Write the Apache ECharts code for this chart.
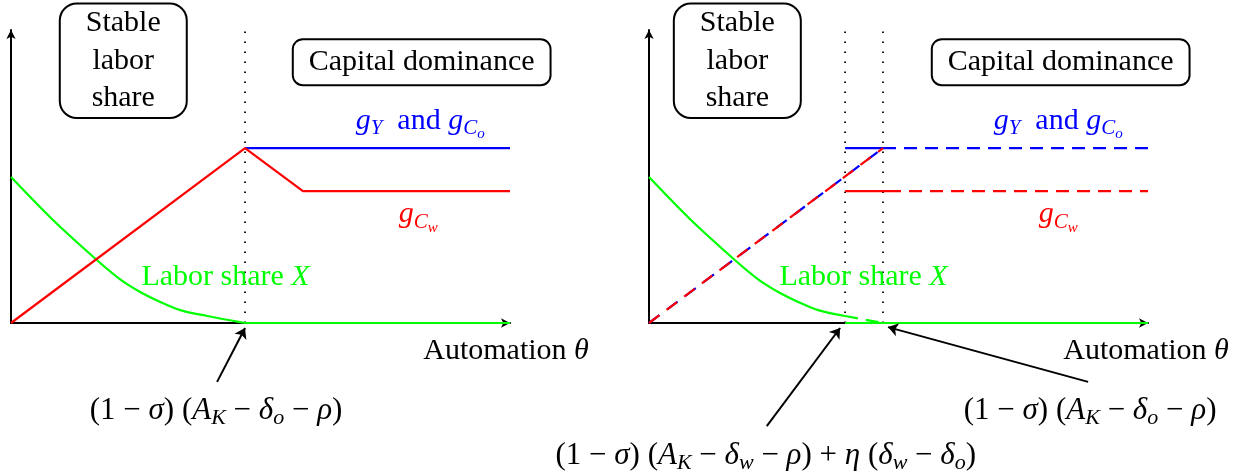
<!DOCTYPE html>
<html><head><meta charset="utf-8">
<script src="https://cdn.jsdelivr.net/npm/echarts@6/dist/echarts.min.js"></script>
<style>html,body{margin:0;padding:0;background:#fff}#c{width:1251px;height:473px}</style>
</head><body><div id="c"></div>
<script>
// ---------------- data (model units: automation θ on x, rates / share on y) ----------------
const THETA_MAX = 10;
const Y_MAX = 10;
const laborTheta = [0, 0.82, 1.72, 2.18, 2.59, 2.99, 3.39, 3.93, 4.69];
const laborShare = [4.98, 3.55, 2.15, 1.50, 1.06, 0.72, 0.44, 0.24, 0];
const thetaStar = 4.69;        // (1−σ)(A_K−δ_o−ρ)
const thetaW = 3.93;           // (1−σ)(A_K−δ_w−ρ)+η(δ_w−δ_o)
const gPeak = 5.97;            // g_Y and g_Co under capital dominance
const gCw = 4.5;               // g_Cw under capital dominance
const thetaKinkLeft = 5.85;    // where g_Cw settles (left panel)
const thetaCwSolidRight = 4.95;// end of solid g_Cw segment (right panel)

// ---------------- styling ----------------
const F = '"Liberation Serif", "DejaVu Serif", serif';
const FS = 30;
const BLUE = '#0000ff', RED = '#ff0000', GREEN = '#00ff00', BLACK = '#000000';
const DASH = [13, 8];

const laborPts = laborTheta.map((t, i) => [t, laborShare[i]]);
const iW = laborTheta.indexOf(thetaW);

function axisPair(g) {
  const axisLine = {show: true, onZero: false, symbol: ['none', 'arrow'], symbolSize: [7, 9],
    lineStyle: {color: BLACK, width: 2}};
  return {
    x: {gridIndex: g, type: 'value', min: 0, max: THETA_MAX, axisLine: axisLine,
      axisTick: {show: false}, axisLabel: {show: false}, splitLine: {show: false}},
    y: {gridIndex: g, type: 'value', min: 0, max: Y_MAX, axisLine: axisLine,
      axisTick: {show: false}, axisLabel: {show: false}, splitLine: {show: false}}
  };
}
const a0 = axisPair(0), a1 = axisPair(1);

function ln(g, data, color, opts) {
  opts = opts || {};
  return {
    type: 'line', xAxisIndex: g, yAxisIndex: g, data: data, symbol: 'none',
    smooth: opts.smooth || false,
    silent: true, animation: false, clip: false,
    z: opts.z || 3,
    lineStyle: {color: color, width: opts.width || 2.2, type: opts.type || 'solid',
      dashOffset: opts.offset || 0, cap: 'butt'}
  };
}
function dotted(g, t) {
  return ln(g, [[t, 0], [t, Y_MAX]], BLACK, {type: [1.6, 8.4], width: 1.8, z: 1});
}
function arrow(g, from, to) {
  return {
    type: 'lines', coordinateSystem: 'cartesian2d', xAxisIndex: g, yAxisIndex: g,
    clip: false, silent: true, animation: false, z: 5,
    symbol: ['none', 'arrow'], symbolSize: [7, 10],
    lineStyle: {color: BLACK, width: 2, opacity: 1, curveness: 0},
    data: [{coords: [from, to]}]
  };
}

const series = [
  // ---- left panel ----
  dotted(0, thetaStar),
  ln(0, [[thetaStar, gPeak], [THETA_MAX, gPeak]], BLUE),
  ln(0, [[0, 0], [thetaStar, gPeak], [thetaKinkLeft, gCw], [THETA_MAX, gCw]], RED, {z: 4}),
  ln(0, laborPts, GREEN, {smooth: 0.3}),
  ln(0, [[thetaStar, 0], [THETA_MAX, 0]], GREEN),
  arrow(0, [4.13, -2.01], [4.69, -0.17]),
  // ---- right panel ----
  dotted(1, thetaW),
  dotted(1, thetaStar),
  ln(1, [[0, 0], [thetaStar, gPeak]], BLUE, {type: [13, 9.7]}),
  ln(1, [[0, 0], [thetaStar, gPeak]], RED, {type: [13, 9], z: 4}),
  ln(1, [[thetaW, gPeak], [thetaStar, gPeak]], BLUE),
  ln(1, [[thetaStar, gPeak], [THETA_MAX, gPeak]], BLUE, {type: DASH}),
  ln(1, [[thetaW, gCw], [thetaCwSolidRight, gCw]], RED),
  ln(1, [[thetaCwSolidRight, gCw], [THETA_MAX, gCw]], RED, {type: DASH, offset: 8}),
  ln(1, laborPts.slice(0, iW + 1), GREEN, {smooth: 0.3}),
  ln(1, laborPts.slice(iW), GREEN, {type: DASH}),
  ln(1, [[thetaW, 0], [THETA_MAX, 0]], GREEN),
  arrow(1, [8.80, -2.01], [4.79, -0.14]),
  arrow(1, [2.36, -3.52], [3.83, -0.17])
];

const chart = echarts.init(document.getElementById('c'), null, {renderer: 'canvas'});
chart.setOption({
  backgroundColor: '#ffffff',
  animation: false,
  grid: [
    {left: 11, top: 30, width: 499, height: 293},
    {left: 649, top: 30, width: 499, height: 293}
  ],
  xAxis: [a0.x, a1.x],
  yAxis: [a0.y, a1.y],
  series: series
});

// ---------------- annotations anchored in data units ----------------
function richFor(color, fs) {
  return {
    m: {fontFamily: F, fontSize: fs, lineHeight: 42, verticalAlign: 'middle', color: color},
    i: {fontFamily: F, fontSize: fs, fontStyle: 'italic', lineHeight: 42, verticalAlign: 'middle', color: color},
    s: {fontFamily: F, fontSize: Math.round(fs * 0.7), fontStyle: 'italic', verticalAlign: 'bottom', padding: [0, 0, 3, 0], color: color},
    ss: {fontFamily: F, fontSize: Math.round(fs * 0.5), fontStyle: 'italic', verticalAlign: 'bottom', color: color}
  };
}
const TXT_GY = '{i|g}{s|Y}{m|  and }{i|g}{s|C}{ss|o}';
const TXT_GCW = '{i|g}{s|C}{ss|w}';
const TXT_LABOR = '{m|Labor share }{i|X}';
const TXT_AUTO = '{m|Automation }{i|θ}';
const TXT_F1 = '{m|(1 − }{i|σ}{m|) (}{i|A}{s|K}{m| − }{i|δ}{s|o}{m| − }{i|ρ}{m|)}';
const TXT_F2 = '{m|(1 − }{i|σ}{m|) (}{i|A}{s|K}{m| − }{i|δ}{s|w}{m| − }{i|ρ}{m|) + }{i|η}{m| (}{i|δ}{s|w}{m| − }{i|δ}{s|o}{m|)}';

const texts = [
  {g: 0, at: [8.20, 6.90], t: TXT_GY, c: BLUE, fs: FS},
  {g: 0, at: [8.16, 3.70], t: TXT_GCW, c: RED, fs: FS},
  {g: 0, at: [4.30, 1.55], t: TXT_LABOR, c: GREEN, fs: FS},
  {g: 0, at: [9.92, -0.95], t: TXT_AUTO, c: BLACK, fs: FS},
  {g: 0, at: [4.11, -3.00], t: TXT_F1, c: BLACK, fs: 31},
  {g: 1, at: [8.20, 6.90], t: TXT_GY, c: BLUE, fs: FS},
  {g: 1, at: [8.20, 3.70], t: TXT_GCW, c: RED, fs: FS},
  {g: 1, at: [4.30, 1.55], t: TXT_LABOR, c: GREEN, fs: FS},
  {g: 1, at: [9.96, -0.95], t: TXT_AUTO, c: BLACK, fs: FS},
  {g: 1, at: [8.84, -3.00], t: TXT_F1, c: BLACK, fs: 31},
  {g: 1, at: [2.34, -4.53], t: TXT_F2, c: BLACK, fs: 31}
];
const boxes = [
  {g: 0, at: [2.25, 8.95], t: 'Stable\nlabor\nshare', kind: 'tall'},
  {g: 0, at: [8.23, 8.90], t: 'Capital dominance', kind: 'wide'},
  {g: 1, at: [1.77, 8.95], t: 'Stable\nlabor\nshare', kind: 'tall'},
  {g: 1, at: [8.25, 8.90], t: 'Capital dominance', kind: 'wide'}
];

const graphic = [];
texts.forEach(o => {
  const p = chart.convertToPixel({gridIndex: o.g}, o.at);
  graphic.push({type: 'text', x: p[0], y: p[1], z: 10, silent: true,
    style: {text: o.t, rich: richFor(o.c, o.fs), fill: o.c, align: 'center', verticalAlign: 'middle',
      fontFamily: F, fontSize: o.fs}});
});
boxes.forEach(o => {
  const p = chart.convertToPixel({gridIndex: o.g}, o.at);
  const tall = o.kind === 'tall';
  graphic.push({type: 'text', x: p[0], y: p[1], z: 10, silent: true,
    style: {text: o.t, fill: BLACK, fontFamily: F, fontSize: FS,
      lineHeight: tall ? 37.5 : 36, align: 'center', verticalAlign: 'middle',
      backgroundColor: '#ffffff', borderColor: BLACK, borderWidth: 2,
      borderRadius: tall ? 16 : 9,
      padding: tall ? [0, 25, 0, 25] : [4, 15, 4, 15]}});
});
chart.setOption({graphic: graphic});
</script>
</body></html>
